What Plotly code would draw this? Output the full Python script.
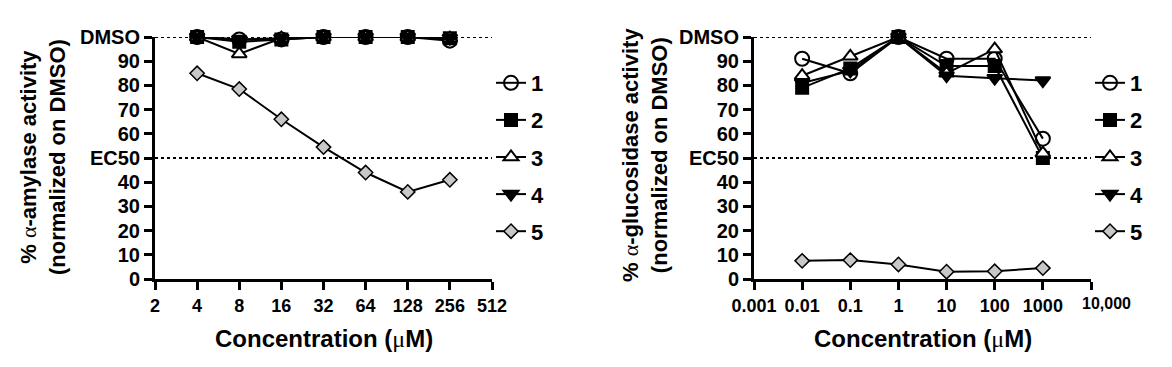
import math
import plotly.graph_objects as go

# ---------------- data ----------------
amy_conc = [4, 8, 16, 32, 64, 128, 256]
amy_1 = [100, 99, 99, 100, 100, 100, 98.5]
amy_2 = [100, 98, 99, 100, 100, 100, 99.5]
amy_3 = [100, 93, 99.5, 100, 100, 100, 99.5]
amy_4 = [100, 99, 99.5, 100, 100, 100, 99.5]
amy_5 = [85, 78.5, 66, 54.5, 44, 36, 41]

glu_conc = [0.01, 0.1, 1, 10, 100, 1000]
glu_1 = [91, 85, 100, 91, 91, 58]
glu_2 = [79, 87, 100, 88, 88, 50]
glu_3 = [84, 92, 100, 85, 95, 52]
glu_4 = [81, 86, 100, 84, 83, 82]
glu_5 = [7.5, 7.8, 6, 3, 3.2, 4.5]

series_names = ["1", "2", "3", "4", "5"]
amy_ticks = [2, 4, 8, 16, 32, 64, 128, 256, 512]
amy_ticktext = ["2", "4", "8", "16", "32", "64", "128", "256", "512"]
glu_ticks = [0.001, 0.01, 0.1, 1, 10, 100, 1000, 10000]
glu_ticktext = ["0.001", "0.01", "0.1", "1", "10", "100", "1000", "10,000"]
y_ticks = [0, 10, 20, 30, 40, 50, 60, 70, 80, 90, 100]
y_ticktext = ["0", "10", "20", "30", "40", "EC50", "60", "70", "80", "90", "DMSO"]

# ---------------- styles ----------------
W, H = 1172, 367
FONT = "Liberation Sans, Arial, sans-serif"
SERIF = "font-family:'Liberation Serif',serif;font-weight:normal"

marker_styles = [
    dict(symbol="circle-open", size=14, color="black", line=dict(color="black", width=2)),
    dict(symbol="square", size=12, color="black", line=dict(color="black", width=2)),
    dict(symbol="triangle-up", size=13, color="white", line=dict(color="black", width=2)),
    dict(symbol="triangle-down", size=13, color="black", line=dict(color="black", width=2)),
    dict(symbol="diamond", size=11, color="#c8c8c8", line=dict(color="black", width=1.5)),
]

fig = go.Figure()

amy_series = [amy_1, amy_2, amy_3, amy_4, amy_5]
glu_series = [glu_1, glu_2, glu_3, glu_4, glu_5]

for i, (name, ys) in enumerate(zip(series_names, amy_series)):
    fig.add_trace(go.Scatter(
        x=amy_conc, y=ys, name=name, mode="lines+markers",
        line=dict(color="black", width=2), marker=marker_styles[i],
        xaxis="x", yaxis="y", legend="legend", legendgroup="a" + name,
        cliponaxis=False,
    ))
for i, (name, ys) in enumerate(zip(series_names, glu_series)):
    fig.add_trace(go.Scatter(
        x=glu_conc, y=ys, name=name, mode="lines+markers",
        line=dict(color="black", width=2), marker=marker_styles[i],
        xaxis="x2", yaxis="y2", legend="legend2", legendgroup="g" + name,
        cliponaxis=False,
    ))

def px_x(p):
    return p / W

def px_y(p):
    return (H - p) / H

ydom = [px_y(279), px_y(37)]

axis_common = dict(
    showline=True, linewidth=3, linecolor="black", mirror=False,
    ticks="outside", ticklen=8, tickwidth=3, tickcolor="black",
    showgrid=False, zeroline=False, automargin=False,
)
ytick_font = dict(family=FONT, size=20, color="black", weight="bold")
xtick_font = dict(family=FONT, size=18, color="black", weight="bold")
leg_font = dict(family=FONT, size=22, color="black", weight="bold")

# last tick label of the right panel is placed as an annotation (offset to the right)
glu_ticktext_axis = glu_ticktext[:-1] + [""]

fig.update_layout(
    width=W, height=H,
    margin=dict(l=0, r=0, t=0, b=0, autoexpand=False),
    paper_bgcolor="white", plot_bgcolor="white",
    font=dict(family=FONT, color="black", weight="bold"),
    xaxis=dict(domain=[px_x(155), px_x(492)], type="log",
               range=[math.log10(2), math.log10(512)],
               tickmode="array", tickvals=amy_ticks, ticktext=amy_ticktext,
               tickangle=0, tickfont=xtick_font, anchor="y", **axis_common),
    yaxis=dict(domain=ydom, range=[0, 100], tickmode="array",
               tickvals=y_ticks, ticktext=y_ticktext, tickfont=ytick_font,
               anchor="x", **axis_common),
    xaxis2=dict(domain=[px_x(754), px_x(1091)], type="log", range=[-3, 4],
                tickmode="array", tickvals=glu_ticks, ticktext=glu_ticktext_axis,
                tickangle=0, tickfont=xtick_font, anchor="y2", **axis_common),
    yaxis2=dict(domain=ydom, range=[0, 100], tickmode="array",
                tickvals=y_ticks, ticktext=y_ticktext, tickfont=ytick_font,
                anchor="x2", **axis_common),
    legend=dict(xref="container", yref="container",
                x=px_x(491), y=px_y(62), xanchor="left", yanchor="top",
                font=leg_font, tracegroupgap=5.5, bgcolor="rgba(0,0,0,0)",
                traceorder="grouped", maxheight=400),
    legend2=dict(xref="container", yref="container",
                 x=px_x(1090), y=px_y(62), xanchor="left", yanchor="top",
                 font=leg_font, tracegroupgap=5.5, bgcolor="rgba(0,0,0,0)",
                 traceorder="grouped", maxheight=400),
    showlegend=True,
)

# reference dotted lines (DMSO = 100, EC50 = 50)
for xr, yr in [("x domain", "y"), ("x2 domain", "y2")]:
    for yv in (100, 50):
        fig.add_shape(type="line", xref=xr, yref=yr, x0=0, x1=1, y0=yv, y1=yv,
                      line=dict(color="black", width=2, dash="dot"), layer="below")

fig.add_annotation(text=glu_ticktext[-1], xref="x2", yref="paper",
                   x=math.log10(glu_ticks[-1]), y=px_y(303),
                   xanchor="left", yanchor="middle", xshift=-11,
                   showarrow=False,
                   font=dict(family=FONT, size=16, color="black", weight="bold"))

ann_font = dict(family=FONT, size=22, color="black", weight="bold")
fig.add_annotation(text=f"% <span style=\"{SERIF}\">α</span>-amylase activity<br>(normalized on DMSO)",
                   xref="paper", yref="paper", x=px_x(43), y=px_y(157),
                   xanchor="center", yanchor="middle",
                   textangle=-90, showarrow=False, font=ann_font)
fig.add_annotation(text=f"% <span style=\"{SERIF}\">α</span>-glucosidase activity<br>(normalized on DMSO)",
                   xref="paper", yref="paper", x=px_x(645), y=px_y(155),
                   xanchor="center", yanchor="middle",
                   textangle=-90, showarrow=False, font=ann_font)
xt_font = dict(family=FONT, size=24, color="black", weight="bold")
fig.add_annotation(text=f"Concentration (<span style=\"{SERIF}\">μ</span>M)",
                   xref="paper", yref="paper", x=px_x(324), y=px_y(338),
                   xanchor="center", yanchor="middle",
                   showarrow=False, font=xt_font)
fig.add_annotation(text=f"Concentration (<span style=\"{SERIF}\">μ</span>M)",
                   xref="paper", yref="paper", x=px_x(923), y=px_y(338),
                   xanchor="center", yanchor="middle",
                   showarrow=False, font=xt_font)

fig.write_html("out.html", config={"displayModeBar": False},
               post_script="document.body.style.margin='0px';")
